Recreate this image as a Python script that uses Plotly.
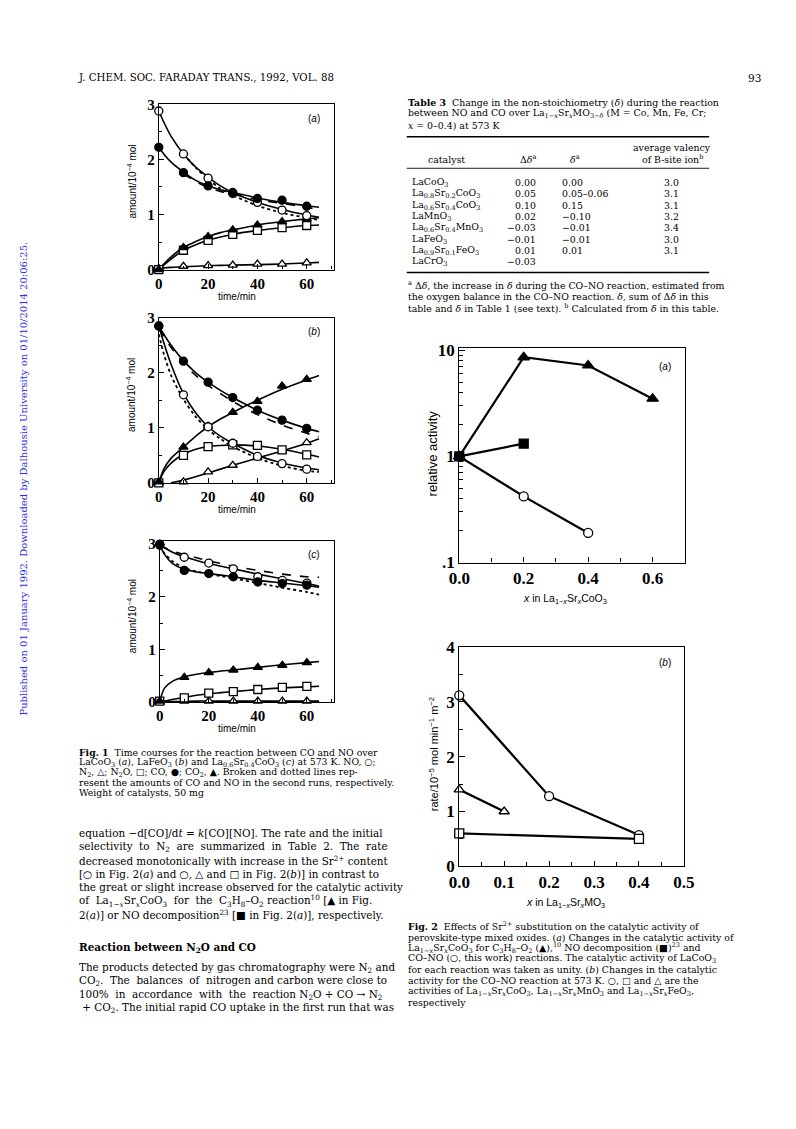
import plotly.graph_objects as go

W, H = 796, 1129

# ---------------- data: Fig. 1 (time courses) ----------------
t_pts = [0, 10, 20, 30, 40, 50, 60]
t_fit = [0, 2, 5, 10, 15, 20, 25, 30, 40, 50, 60, 65]
t_run2 = [10, 15, 20, 25, 30, 40, 50, 60, 65]

# panel (a) LaCoO3
a_NO = [2.88, 2.10, 1.66, 1.38, 1.22, 1.08, 0.98]
a_CO = [2.22, 1.76, 1.52, 1.40, 1.29, 1.26, 1.15]
a_N2O = [0.00, 0.35, 0.53, 0.64, 0.71, 0.76, 0.80]
a_CO2 = [0.00, 0.40, 0.60, 0.72, 0.81, 0.87, 0.92]
a_N2 = [0.02, 0.06, 0.07, 0.08, 0.10, 0.10, 0.12]
a_NO_fit = [2.88, 2.68, 2.42, 2.10, 1.86, 1.68, 1.52, 1.40, 1.22, 1.09, 0.99, 0.95]
a_CO_fit = [2.22, 2.10, 1.95, 1.77, 1.62, 1.52, 1.45, 1.40, 1.30, 1.22, 1.16, 1.13]
a_CO2_fit = [0.00, 0.10, 0.23, 0.40, 0.51, 0.60, 0.67, 0.72, 0.81, 0.87, 0.92, 0.94]
a_N2O_fit = [0.00, 0.08, 0.19, 0.35, 0.45, 0.53, 0.59, 0.64, 0.71, 0.76, 0.80, 0.81]
a_N2_fit = [0.02, 0.03, 0.04, 0.05, 0.06, 0.07, 0.075, 0.08, 0.09, 0.10, 0.12, 0.13]
a_NO_run2 = [2.10, 1.85, 1.64, 1.47, 1.35, 1.16, 1.03, 0.94, 0.90]
a_CO_run2 = [1.74, 1.60, 1.49, 1.42, 1.37, 1.27, 1.20, 1.13, 1.09]

# panel (b) LaFeO3
b_NO = [2.85, 1.60, 1.02, 0.72, 0.48, 0.35, 0.25]
b_CO = [2.85, 2.21, 1.83, 1.55, 1.32, 1.14, 0.99]
b_N2O = [0.00, 0.50, 0.66, 0.69, 0.68, 0.60, 0.51]
b_CO2 = [0.02, 0.65, 1.03, 1.28, 1.48, 1.76, 1.88]
b_N2 = [0.00, 0.02, 0.20, 0.32, 0.46, 0.58, 0.73]
b_NO_fit = [2.85, 2.55, 2.15, 1.62, 1.27, 1.02, 0.85, 0.72, 0.50, 0.36, 0.27, 0.24]
b_CO_fit = [2.85, 2.70, 2.50, 2.22, 2.00, 1.83, 1.68, 1.55, 1.32, 1.14, 0.99, 0.93]
b_CO2_fit = [0.00, 0.25, 0.45, 0.65, 0.85, 1.02, 1.16, 1.28, 1.50, 1.70, 1.87, 1.95]
b_N2O_fit = [0.00, 0.20, 0.36, 0.52, 0.61, 0.66, 0.68, 0.69, 0.67, 0.61, 0.52, 0.47]
b_N2_t = [5, 10, 20, 30, 40, 50, 60, 65]
b_N2_fit = [0.00, 0.05, 0.18, 0.32, 0.45, 0.58, 0.72, 0.80]
b_NO_run2 = [2.70, 2.35, 1.95, 1.52, 1.20, 0.97, 0.80, 0.66, 0.45, 0.31, 0.22, 0.20]
b_CO_run2 = [2.80, 2.66, 2.46, 2.17, 1.95, 1.77, 1.62, 1.48, 1.24, 1.05, 0.90, 0.84]

# panel (c) La0.6Sr0.4CoO3
c_NO = [3.00, 2.75, 2.64, 2.53, 2.38, 2.31, 2.26]
c_CO = [2.98, 2.50, 2.44, 2.38, 2.28, 2.25, 2.22]
c_N2O = [0.02, 0.08, 0.17, 0.20, 0.24, 0.28, 0.30]
c_CO2 = [0.02, 0.47, 0.56, 0.61, 0.66, 0.70, 0.75]
c_N2 = [0.00, 0.02, 0.02, 0.02, 0.02, 0.02, 0.02]
c_NO_fit = [3.00, 2.93, 2.85, 2.76, 2.69, 2.63, 2.58, 2.53, 2.43, 2.34, 2.25, 2.20]
c_CO_fit = [2.98, 2.80, 2.64, 2.52, 2.47, 2.44, 2.41, 2.38, 2.31, 2.26, 2.21, 2.18]
c_CO2_fit = [0.02, 0.27, 0.39, 0.48, 0.53, 0.56, 0.59, 0.61, 0.66, 0.71, 0.75, 0.77]
c_N2O_fit = [0.00, 0.02, 0.05, 0.09, 0.13, 0.16, 0.18, 0.20, 0.24, 0.27, 0.29, 0.30]
c_N2_fit = [0.00, 0.01, 0.01, 0.015, 0.02, 0.02, 0.02, 0.02, 0.02, 0.02, 0.02, 0.02]
c_NO_run2 = [2.95, 2.82, 2.68, 2.55, 2.48, 2.43, 2.39, 2.35, 2.26, 2.17, 2.09, 2.04]
c_CO_run2 = [2.98, 2.93, 2.87, 2.80, 2.74, 2.68, 2.63, 2.58, 2.50, 2.43, 2.38, 2.37]

# ---------------- data: Fig. 2 ----------------
f2a_x_C3H8 = [0.0, 0.2, 0.4, 0.6]
f2a_C3H8 = [1.0, 8.6, 7.2, 3.5]
f2a_x_NOdec = [0.0, 0.2]
f2a_NOdec = [1.0, 1.32]
f2a_x_CONO = [0.0, 0.2, 0.4]
f2a_CONO = [1.0, 0.42, 0.19]

f2b_x_Co = [0.0, 0.2, 0.4]
f2b_Co = [3.12, 1.28, 0.57]
f2b_x_Fe = [0.0, 0.1]
f2b_Fe = [1.40, 1.00]
f2b_x_Mn = [0.0, 0.4]
f2b_Mn = [0.60, 0.50]

# ---------------- table 3 text ----------------
tbl_catalyst = ["LaCoO<sub>3</sub>", "La<sub>0.8</sub>Sr<sub>0.2</sub>CoO<sub>3</sub>",
                "La<sub>0.6</sub>Sr<sub>0.4</sub>CoO<sub>3</sub>", "LaMnO<sub>3</sub>",
                "La<sub>0.6</sub>Sr<sub>0.4</sub>MnO<sub>3</sub>", "LaFeO<sub>3</sub>",
                "La<sub>0.9</sub>Sr<sub>0.1</sub>FeO<sub>3</sub>", "LaCrO<sub>3</sub>"]
tbl_ddelta = ["0.00", "0.05", "0.10", "0.02", "−0.03", "−0.01", "0.01", "−0.03"]
tbl_delta = ["0.00", "0.05–0.06", "0.15", "−0.10", "−0.01", "−0.01", "0.01", ""]
tbl_valency = ["3.0", "3.1", "3.1", "3.2", "3.4", "3.0", "3.1", ""]

# ---------------- helpers ----------------
def X(px):
    return px / W


def Y(py):
    return 1 - py / H


SERIF = "Liberation Serif"
TEXT = "DejaVu Serif"
SANS = "Liberation Sans"
fig = go.Figure()
layout = dict(width=W, height=H, margin=dict(l=0, r=0, t=0, b=0),
              paper_bgcolor="white", plot_bgcolor="white", showlegend=False)
annotations = []
shapes = []


def txt(x, y, s, size=12, anchor="left", family=TEXT, color="black", angle=0):
    annotations.append(dict(xref="paper", yref="paper", x=X(x), y=Y(y), text=s,
                            showarrow=False, xanchor=anchor, yanchor="middle",
                            textangle=angle, borderpad=0,
                            font=dict(family=family, size=size, color=color)))


def axis_pair(i, xl, xr, yt, yb, xcfg, ycfg):
    sfx = "" if i == 1 else str(i)
    common = dict(showline=True, linecolor="black", linewidth=1.2, mirror=True,
                  showgrid=False, zeroline=False, ticks="inside", tickcolor="black",
                  tickwidth=1.2)
    xa = dict(common, domain=[X(xl), X(xr)], anchor="y" + sfx)
    ya = dict(common, domain=[Y(yb), Y(yt)], anchor="x" + sfx)
    xa.update(xcfg)
    ya.update(ycfg)
    layout["xaxis" + sfx] = xa
    layout["yaxis" + sfx] = ya
    return ("x" + sfx, "y" + sfx)


def line(ax, x, y, dash="solid", width=1.6):
    fig.add_trace(go.Scatter(x=x, y=y, xaxis=ax[0], yaxis=ax[1], mode="lines",
                             line=dict(color="black", width=width, dash=dash, shape="spline",
                                       smoothing=0.8),
                             cliponaxis=False, hoverinfo="skip"))


def pts(ax, x, y, symbol, filled, size=8, lines_too=False, width=1.6):
    fig.add_trace(go.Scatter(x=x, y=y, xaxis=ax[0], yaxis=ax[1],
                             mode="lines+markers" if lines_too else "markers",
                             line=dict(color="black", width=width),
                             marker=dict(symbol=symbol, size=size,
                                         color="black" if filled else "white",
                                         line=dict(color="black", width=1.3)),
                             cliponaxis=False))


tickfont1 = dict(family=SERIF, size=15, color="black", weight="bold")
tickfont2 = dict(family=SERIF, size=17, color="black", weight="bold")

fig1_x = dict(range=[0, 71], tickvals=[0, 20, 40, 60], ticklen=5, tickfont=tickfont1,
              minor=dict(dtick=10, ticklen=3, ticks="inside", tickcolor="black"))
fig1_y = dict(range=[0, 3], tickvals=[0, 1, 2, 3], ticklen=5, tickfont=tickfont1,
              minor=dict(dtick=0.5, ticklen=3, ticks="inside", tickcolor="black"))

panels = [
    (152, 332, 97, 265, [0, 3], "a",
     (a_NO, a_CO, a_N2O, a_CO2, a_N2),
     (a_NO_fit, a_CO_fit, a_CO2_fit, a_N2O_fit, (t_fit, a_N2_fit)),
     (t_run2, a_NO_run2, t_run2, a_CO_run2)),
    (152, 332, 314, 482, [0, 3], "b",
     (b_NO, b_CO, b_N2O, b_CO2, b_N2),
     (b_NO_fit, b_CO_fit, b_CO2_fit, b_N2O_fit, (b_N2_t, b_N2_fit)),
     (t_fit, b_NO_run2, t_fit, b_CO_run2)),
    (153, 332, 541, 705, [0, 3.06], "c",
     (c_NO, c_CO, c_N2O, c_CO2, c_N2),
     (c_NO_fit, c_CO_fit, c_CO2_fit, c_N2O_fit, (t_fit, c_N2_fit)),
     (t_fit, c_NO_run2, t_fit, c_CO_run2)),
]

for i, (xl, xr, yt, yb, yr, lab, P, F, R) in enumerate(panels, start=1):
    ycfg = dict(fig1_y, range=yr)
    ax = axis_pair(i, xl, xr, yt, yb, fig1_x, ycfg)
    NO, CO, N2O, CO2, N2 = P
    NOf, COf, CO2f, N2Of, (tn2, N2f) = F
    tr_no, no_r2, tr_co, co_r2 = R
    line(ax, tr_no, no_r2, dash="dot", width=1.8)
    line(ax, tr_co, co_r2, dash="dash", width=1.6)
    line(ax, t_fit, NOf)
    line(ax, t_fit, COf)
    line(ax, t_fit, CO2f)
    line(ax, t_fit, N2Of)
    line(ax, tn2, N2f)
    pts(ax, t_pts, N2, "triangle-up", False)
    pts(ax, t_pts, N2O, "square", False)
    pts(ax, t_pts, CO2, "triangle-up", True)
    pts(ax, t_pts, NO, "circle", False)
    pts(ax, t_pts, CO, "circle", True)
    txt(xr - 20, yt + 14, f"(<i>{lab}</i>)", size=10, anchor="center", family=SANS)
    txt(124, (yt + yb) / 2 - 5, "amount/10<sup>−4</sup> mol", size=10, anchor="center",
        family=SANS, angle=-90)
    txt(232, yb + 27, "time/min", size=10, anchor="center", family=SANS)

# ---- Fig 2(a) ----
ax4 = axis_pair(4, 461, 693, 345, 563,
                dict(range=[0, 0.7], tickvals=[0, 0.2, 0.4, 0.6],
                     ticktext=["0.0", "0.2", "0.4", "0.6"], ticklen=5, tickfont=tickfont2,
                     minor=dict(dtick=0.1, ticklen=4, ticks="inside", tickcolor="black")),
                dict(type="log", range=[-1, 1.02], tickvals=[0.1, 1, 10],
                     ticktext=[".1", "1", "10"], ticklen=6, tickfont=tickfont2,
                     minor=dict(tickvals=[0.2, 0.3, 0.4, 0.5, 0.6, 0.7, 0.8, 0.9,
                                          2, 3, 4, 5, 6, 7, 8, 9],
                                ticklen=4, ticks="inside", tickcolor="black")))
pts(ax4, f2a_x_CONO, f2a_CONO, "circle", False, size=9, lines_too=True, width=2.2)
pts(ax4, f2a_x_C3H8, f2a_C3H8, "triangle-up", True, size=10, lines_too=True, width=2.2)
pts(ax4, f2a_x_NOdec, f2a_NOdec, "square", True, size=9, lines_too=True, width=2.2)
txt(673, 364, "(<i>a</i>)", size=10, anchor="center", family=SANS)
txt(433, 452, "relative activity", size=13, anchor="center", family=SANS, angle=-90)
txt(570, 600, "<i>x</i> in La<sub>1−<i>x</i></sub>Sr<sub><i>x</i></sub>CoO<sub>3</sub>",
    size=10.5, anchor="center", family=SANS)

# ---- Fig 2(b) ----
ax5 = axis_pair(5, 461, 692, 649, 872,
                dict(range=[0, 0.5], tickvals=[0, 0.1, 0.2, 0.3, 0.4, 0.5],
                     ticktext=["0.0", "0.1", "0.2", "0.3", "0.4", "0.5"], ticklen=5,
                     tickfont=tickfont2,
                     minor=dict(dtick=0.05, ticklen=4, ticks="inside", tickcolor="black")),
                dict(range=[0, 4], tickvals=[0, 1, 2, 3, 4], ticklen=6, tickfont=tickfont2,
                     minor=dict(dtick=0.5, ticklen=4, ticks="inside", tickcolor="black")))
pts(ax5, f2b_x_Co, f2b_Co, "circle", False, size=9, lines_too=True, width=2.2)
pts(ax5, f2b_x_Fe, f2b_Fe, "triangle-up", False, size=9, lines_too=True, width=2.2)
pts(ax5, f2b_x_Mn, f2b_Mn, "square", False, size=9, lines_too=True, width=2.2)
txt(673, 665, "(<i>b</i>)", size=10, anchor="center", family=SANS)
txt(435, 758, "rate/10<sup>−5</sup> mol min<sup>−1</sup> m<sup>−2</sup>", size=11,
    anchor="center", family=SANS, angle=-90)
txt(570, 909, "<i>x</i> in La<sub>1−<i>x</i></sub>Sr<sub><i>x</i></sub>MO<sub>3</sub>",
    size=10.5, anchor="center", family=SANS)

# ---- page header ----
txt(68, 70, "J. CHEM. SOC. FARADAY TRANS., 1992, VOL. 88", size=10.2)
txt(757, 70, "93", size=10.5)
txt(13, 478, "Published on 01 January 1992. Downloaded by Dalhousie University on 01/10/2014 20:06:25.",
    size=10, anchor="center", color="#2b2bf0", angle=-90)

# ---- Table 3 ----
TL = 407
TS = 9.4
txt(TL, 95, "<b>Table 3</b>  Change in the non-stoichiometry (<i>δ</i>) during the reaction", size=TS)
txt(TL, 106.5, "between NO and CO over La<sub>1−<i>x</i></sub>Sr<sub><i>x</i></sub>MO<sub>3−<i>δ</i></sub> (M = Co, Mn, Fe, Cr;", size=TS)
txt(TL, 118, "<i>x</i> = 0–0.4) at 573 K", size=TS)
for yy, wd in [(130, 1.6), (162, 0.9), (268, 1.6)]:
    shapes.append(dict(type="line", xref="paper", yref="paper", x0=X(TL), x1=X(718),
                       y0=Y(yy), y1=Y(yy), line=dict(color="black", width=wd)))
txt(448, 153, "catalyst", size=TS, anchor="center")
txt(532, 153, "Δ<i>δ</i><sup>a</sup>", size=TS, anchor="center")
txt(580, 153, "<i>δ</i><sup>a</sup>", size=TS, anchor="center")
txt(680, 141, "average valency", size=TS, anchor="center")
txt(680, 153, "of B-site ion<sup>b</sup>", size=TS, anchor="center")
for k in range(len(tbl_catalyst)):
    yy = 176.5 + 11.5 * k
    txt(411, yy, tbl_catalyst[k], size=TS)
    txt(541, yy, tbl_ddelta[k], size=TS, anchor="right")
    if tbl_delta[k]:
        txt(566, yy, tbl_delta[k], size=TS)
    if tbl_valency[k]:
        txt(679, yy, tbl_valency[k], size=TS, anchor="center")
txt(TL, 281, "<sup>a</sup> Δ<i>δ</i>, the increase in <i>δ</i> during the CO–NO reaction, estimated from", size=TS)
txt(TL, 292.5, "the oxygen balance in the CO–NO reaction. <i>δ</i>, sum of Δ<i>δ</i> in this", size=TS)
txt(TL, 304, "table and <i>δ</i> in Table 1 (see text). <sup>b</sup> Calculated from <i>δ</i> in this table.", size=TS)

# ---- Fig 1 caption ----
cap1 = [
    "<b>Fig. 1</b>  Time courses for the reaction between CO and NO over",
    "LaCoO<sub>3</sub> (<i>a</i>), LaFeO<sub>3</sub> (<i>b</i>) and La<sub>0.6</sub>Sr<sub>0.4</sub>CoO<sub>3</sub> (<i>c</i>) at 573 K. NO, ○;",
    "N<sub>2</sub>, △; N<sub>2</sub>O, □; CO, ●; CO<sub>2</sub>, ▲. Broken and dotted lines rep-",
    "resent the amounts of CO and NO in the second runs, respectively.",
    "Weight of catalysts, 50 mg",
]
for k, s in enumerate(cap1):
    txt(69, 756 + 10.3 * k, s, size=9.3)

# ---- body text ----
body = [
    (838, "equation −d[CO]/d<i>t</i> = <i>k</i>[CO][NO]. The rate and the initial"),
    (852, "selectivity  to  N<sub>2</sub>  are  summarized  in  Table  2.  The  rate"),
    (866, "decreased monotonically with increase in the Sr<sup>2+</sup> content"),
    (880, "[○ in Fig. 2(<i>a</i>) and ○, △ and □ in Fig. 2(<i>b</i>)] in contrast to"),
    (893.5, "the great or slight increase observed for the catalytic activity"),
    (907, "of  La<sub>1−<i>x</i></sub>Sr<sub><i>x</i></sub>CoO<sub>3</sub>  for  the  C<sub>3</sub>H<sub>8</sub>–O<sub>2</sub> reaction<sup>10</sup> [▲ in Fig."),
    (921, "2(<i>a</i>)] or NO decomposition<sup>23</sup> [■ in Fig. 2(<i>a</i>)], respectively."),
    (955, "<b>Reaction between N<sub>2</sub>O and CO</b>"),
    (975, "The products detected by gas chromatography were N<sub>2</sub> and"),
    (989, "CO<sub>2</sub>.  The  balances  of  nitrogen and carbon were close to"),
    (1003, "100%  in  accordance  with  the  reaction N<sub>2</sub>O + CO → N<sub>2</sub>"),
    (1016.5, " + CO<sub>2</sub>. The initial rapid CO uptake in the first run that was"),
]
for yy, s in body:
    txt(69, yy, s, size=10.4)

# ---- Fig 2 caption ----
cap2 = [
    "<b>Fig. 2</b>  Effects of Sr<sup>2+</sup> substitution on the catalytic activity of",
    "perovskite-type mixed oxides. (<i>a</i>) Changes in the catalytic activity of",
    "La<sub>1−<i>x</i></sub>Sr<sub><i>x</i></sub>CoO<sub>3</sub> for C<sub>3</sub>H<sub>8</sub>–O<sub>2</sub> (▲),<sup>10</sup> NO decomposition (■)<sup>23</sup> and",
    "CO–NO (○, this work) reactions. The catalytic activity of LaCoO<sub>3</sub>",
    "for each reaction was taken as unity. (<i>b</i>) Changes in the catalytic",
    "activity for the CO–NO reaction at 573 K. ○, □ and △ are the",
    "activities of La<sub>1−<i>x</i></sub>Sr<sub><i>x</i></sub>CoO<sub>3</sub>, La<sub>1−<i>x</i></sub>Sr<sub><i>x</i></sub>MnO<sub>3</sub> and La<sub>1−<i>x</i></sub>Sr<sub><i>x</i></sub>FeO<sub>3</sub>,",
    "respectively",
]
for k, s in enumerate(cap2):
    txt(407, 933 + 11 * k, s, size=9.4)

layout["annotations"] = annotations
layout["shapes"] = shapes
fig.update_layout(**layout)
fig.write_html("out.html", config={"displayModeBar": False},
               post_script="document.body.style.margin='0';")
